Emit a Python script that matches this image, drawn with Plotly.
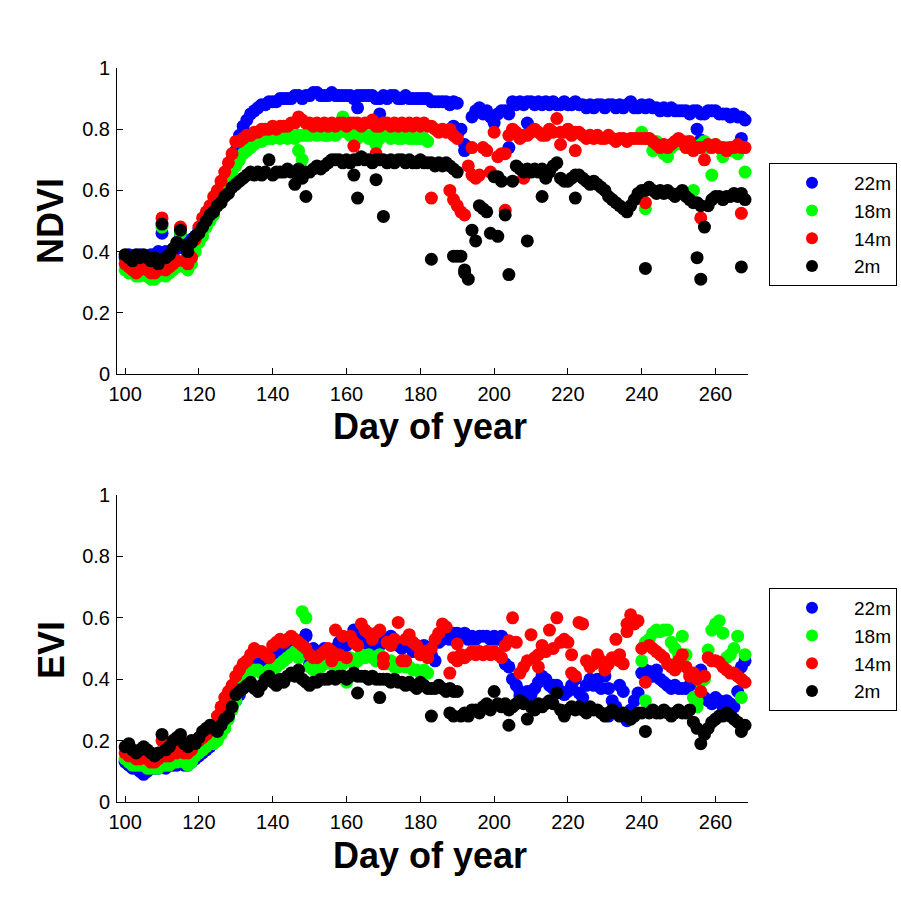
import plotly.graph_objects as go

N = None
days = list(range(100, 269))
series_names = ["22m", "18m", "14m", "2m"]
series_colors = ["#0000FF", "#00FF00", "#FF0000", "#000000"]
x_ticks = [100, 120, 140, 160, 180, 200, 220, 240, 260]
y_ticks = [0, 0.2, 0.4, 0.6, 0.8, 1]

# ---------------- NDVI ----------------
ndvi_22m = [
    0.38, 0.39, 0.38, 0.38, 0.39, 0.38, 0.38, 0.39, 0.39, 0.40,
    0.46, 0.40, 0.39, 0.40, 0.41, 0.45, 0.41, 0.42, 0.44, 0.45,
    0.47, 0.49, 0.51, 0.53, 0.56, 0.58, 0.61, 0.64, 0.67, 0.70,
    0.73, 0.78, 0.81, 0.83, 0.85, 0.86, 0.87, 0.88, 0.88, 0.89,
    0.89, 0.89, 0.90, 0.90, 0.90, 0.90, 0.91, 0.91, 0.90, 0.91,
    0.91, 0.92, 0.92, 0.91, 0.91, 0.91, 0.92, 0.91, 0.91, 0.91,
    0.91, 0.91, 0.90, 0.91, 0.91, 0.91, 0.91, 0.91, 0.90, 0.90,
    0.91, 0.90, 0.91, 0.91, 0.90, 0.90, 0.91, 0.90, 0.90, 0.90,
    0.90, 0.90, 0.90, 0.89, 0.89, 0.89, 0.89, 0.89, 0.88, 0.89,
    0.885, 0.80, 0.75, 0.74, 0.84, 0.86, 0.87, 0.85, 0.86, 0.84,
    0.82, 0.85, 0.86, 0.86, 0.85, 0.89, 0.88, 0.89, 0.88, 0.89,
    0.89, 0.88, 0.89, 0.88, 0.89, 0.88, 0.89, 0.88, 0.88, 0.89,
    0.88, 0.88, 0.89, 0.88, 0.88, 0.87, 0.88, 0.87, 0.88, 0.88,
    0.87, 0.88, 0.88, 0.87, 0.88, 0.87, 0.88, 0.89, 0.87, 0.87,
    0.88, 0.87, 0.88, 0.87, 0.87, 0.86, 0.87, 0.86, 0.87, 0.86,
    0.86, 0.86, 0.86, 0.85, 0.86, 0.86, 0.85, 0.85, 0.86, 0.86,
    0.86, 0.85, 0.85, 0.85, 0.84, 0.85, 0.84, 0.84, 0.83]
ndvi_22m_xd = [163, 169, 189, 190, 192, 204, 209, 255, 256, 267]
ndvi_22m_xv = [0.87, 0.85, 0.81, 0.78, 0.73, 0.74, 0.82, 0.80, 0.765, 0.77]

ndvi_18m = [
    0.34, 0.33, 0.33, 0.32, 0.32, 0.33, 0.32, 0.31, 0.31, 0.32,
    0.48, 0.32, 0.33, 0.34, 0.35, 0.46, 0.35, 0.34, 0.36, 0.40,
    0.43, 0.45, 0.48, 0.50, 0.52, 0.55, 0.58, 0.60, 0.62, 0.65,
    0.68, 0.70, 0.72, 0.73, 0.74, 0.75, 0.76, 0.76, 0.77, 0.77,
    0.77, 0.78, 0.77, 0.78, 0.77, 0.78, 0.77, 0.78, 0.78, 0.78,
    0.78, 0.79, 0.78, 0.79, 0.78, 0.78, 0.79, 0.78, 0.79, 0.84,
    0.79, 0.78, 0.78, 0.77, 0.78, 0.78, 0.77, 0.78, 0.75, 0.77,
    0.78, 0.78, 0.77, 0.78, 0.77, 0.77, 0.78, 0.77, 0.77, 0.77,
    0.77, 0.77, 0.76, N, N, N, N, N, N, N,
    N, N, N, N, N, N, N, N, N, N,
    N, N, N, N, N, N, N, N, N, N,
    N, N, N, N, N, N, N, N, N, N,
    N, N, N, N, N, N, N, N, N, N,
    N, N, N, N, N, N, N, N, N, N,
    0.79, 0.77, 0.77, 0.73, 0.76, 0.75, 0.72, 0.71, 0.74, 0.75,
    0.76, 0.75, 0.76, 0.74, 0.74, 0.74, 0.75, 0.76, 0.74, 0.65,
    0.75, 0.74, 0.71, 0.74, 0.73, 0.74, 0.72, 0.74, 0.66]
ndvi_18m_xd = [147, 148, 241, 254]
ndvi_18m_xv = [0.73, 0.70, 0.54, 0.60]

ndvi_14m = [
    0.36, 0.35, 0.34, 0.33, 0.34, 0.35, 0.34, 0.33, 0.33, 0.34,
    0.51, 0.34, 0.35, 0.36, 0.37, 0.48, 0.37, 0.36, 0.38, 0.44,
    0.48, 0.51, 0.53, 0.55, 0.58, 0.60, 0.63, 0.66, 0.69, 0.72,
    0.76, 0.76, 0.77, 0.78, 0.78, 0.79, 0.79, 0.80, 0.80, 0.80,
    0.81, 0.80, 0.81, 0.81, 0.81, 0.82, 0.82, 0.84, 0.83, 0.82,
    0.82, 0.81, 0.82, 0.81, 0.82, 0.81, 0.82, 0.81, 0.82, 0.82,
    0.81, 0.82, 0.82, 0.82, 0.81, 0.82, 0.82, 0.83, 0.81, 0.81,
    0.82, 0.82, 0.81, 0.82, 0.81, 0.82, 0.81, 0.82, 0.81, 0.82,
    0.81, 0.82, 0.81, 0.81, 0.80, 0.79, 0.80, 0.79, 0.80, 0.78,
    0.77, 0.53, 0.52, 0.68, 0.74, 0.64, 0.65, 0.74, 0.73, 0.66,
    0.79, 0.71, 0.72, 0.72, 0.78, 0.80, 0.79, 0.77, 0.78, 0.78,
    0.79, 0.80, 0.79, 0.78, 0.78, 0.80, 0.79, 0.835, 0.79, 0.79,
    0.80, 0.78, 0.79, 0.79, 0.78, 0.77, 0.78, 0.77, 0.78, 0.77,
    0.77, 0.78, 0.77, 0.76, 0.77, 0.77, 0.76, 0.77, 0.77, 0.77,
    0.77, 0.77, 0.77, 0.76, 0.75, 0.74, 0.75, 0.74, 0.75, 0.76,
    0.77, 0.76, 0.74, 0.76, 0.73, 0.74, 0.74, 0.70, 0.75, 0.74,
    0.75, 0.74, 0.74, 0.73, 0.74, 0.74, 0.75, 0.74, 0.74]
ndvi_14m_xd = [162, 168, 183, 188, 189, 190, 194, 203, 208, 218, 222, 241, 256, 267]
ndvi_14m_xv = [0.745, 0.72, 0.575, 0.60, 0.57, 0.55, 0.65, 0.535, 0.64, 0.75, 0.73, 0.56, 0.51, 0.525]

ndvi_2m = [
    0.39, 0.38, 0.37, 0.39, 0.38, 0.39, 0.38, 0.37, 0.38, 0.36,
    0.49, 0.38, 0.39, 0.41, 0.43, 0.47, 0.42, 0.40, 0.43, 0.45,
    0.46, 0.48, 0.50, 0.52, 0.53, 0.55, 0.56, 0.58, 0.59, 0.61,
    0.62, 0.63, 0.64, 0.65, 0.66, 0.65, 0.66, 0.65, 0.66, 0.70,
    0.65, 0.66, 0.66, 0.66, 0.67, 0.66, 0.66, 0.67, 0.66, 0.66,
    0.66, 0.67, 0.68, 0.67, 0.68, 0.69, 0.70, 0.70, 0.70, 0.69,
    0.70, 0.69, 0.70, 0.70, 0.71, 0.70, 0.70, 0.69, 0.70, 0.70,
    0.70, 0.69, 0.70, 0.69, 0.70, 0.70, 0.69, 0.70, 0.69, 0.69,
    0.70, 0.69, 0.69, 0.69, 0.68, 0.69, 0.68, 0.69, 0.68, 0.67,
    0.66, 0.385, 0.34, 0.31, 0.47, 0.435, 0.55, 0.54, 0.53, 0.46,
    0.645, 0.45, 0.63, 0.52, 0.325, 0.63, 0.68, 0.67, 0.66, 0.67,
    0.66, 0.67, 0.66, 0.67, 0.64, 0.66, 0.68, 0.69, 0.64, 0.63,
    0.63, 0.64, 0.65, 0.65, 0.64, 0.63, 0.62, 0.63, 0.62, 0.61,
    0.60, 0.58, 0.57, 0.56, 0.55, 0.54, 0.53, 0.55, 0.57, 0.59,
    0.60, 0.60, 0.61, 0.60, 0.59, 0.60, 0.59, 0.60, 0.59, 0.58,
    0.59, 0.60, 0.58, 0.57, 0.56, 0.56, 0.55, 0.48, 0.55, 0.57,
    0.58, 0.58, 0.57, 0.58, 0.58, 0.59, 0.58, 0.59, 0.57]
ndvi_2m_xd = [146, 148, 149, 162, 163, 168, 170, 183, 189, 190, 192, 201, 209, 213, 222, 241, 255, 256, 267]
ndvi_2m_xv = [0.62, 0.64, 0.58, 0.65, 0.575, 0.635, 0.515, 0.375, 0.385, 0.385, 0.33, 0.645, 0.435, 0.58, 0.575, 0.345, 0.38, 0.31, 0.35]

# ---------------- EVI ----------------
evi_22m = [
    0.13, 0.12, 0.11, 0.11, 0.10, 0.09, 0.10, 0.11, 0.11, 0.11,
    0.12, 0.11, 0.12, 0.12, 0.12, 0.13, 0.12, 0.12, 0.13, 0.14,
    0.15, 0.16, 0.17, 0.18, 0.20, 0.22, 0.24, 0.26, 0.28, 0.31,
    0.33, 0.35, 0.38, 0.40, 0.42, 0.44, 0.45, 0.46, 0.46, 0.47,
    0.48, 0.48, 0.49, 0.50, 0.50, 0.51, 0.50, 0.51, 0.52, 0.54,
    0.45, 0.50, 0.47, 0.49, 0.50, 0.49, 0.48, 0.50, 0.52, 0.50,
    0.51, 0.52, 0.56, 0.54, 0.50, 0.52, 0.50, 0.53, 0.52, 0.51,
    0.52, 0.53, 0.54, 0.52, 0.51, 0.50, 0.52, 0.51, 0.49, 0.51,
    0.50, 0.51, 0.50, 0.48, 0.46, 0.52, 0.53, 0.54, 0.53, 0.55,
    0.55, 0.54, 0.55, 0.53, 0.54, 0.53, 0.54, 0.54, 0.54, 0.53,
    0.54, 0.53, 0.54, 0.45, 0.44, 0.40, 0.38, 0.36, 0.35, 0.36,
    0.35, 0.37, 0.39, 0.41, 0.40, 0.38, 0.37, 0.38, 0.36, 0.35,
    0.36, 0.38, 0.40, 0.355, 0.34, 0.38, 0.40, 0.38, 0.40, 0.37,
    0.41, 0.28, 0.33, 0.31, 0.38, 0.36, 0.265, 0.30, 0.33, 0.355,
    0.42, 0.43, 0.425, 0.41, 0.43, 0.40, 0.39, 0.38, 0.37, 0.38,
    0.37, 0.37, 0.37, 0.38, 0.40, 0.41, 0.43, 0.34, 0.33, 0.32,
    0.34, 0.33, 0.31, 0.33, 0.32, 0.31, 0.36, 0.44, 0.46]
evi_22m_xd = [149, 165, 207, 216, 231]
evi_22m_xv = [0.545, 0.50, 0.345, 0.38, 0.37]

evi_18m = [
    0.14, 0.13, 0.12, 0.12, 0.12, 0.12, 0.11, 0.11, 0.11, 0.11,
    0.12, 0.12, 0.12, 0.13, 0.13, 0.14, 0.13, 0.12, 0.13, 0.15,
    0.16, 0.17, 0.18, 0.19, 0.19, 0.20, 0.22, 0.24, 0.27, 0.30,
    0.33, 0.36, 0.39, 0.41, 0.42, 0.43, 0.43, 0.42, 0.42, 0.43,
    0.43, 0.44, 0.45, 0.46, 0.47, 0.48, 0.49, 0.47, 0.62, 0.60,
    0.44, 0.43, 0.43, 0.44, 0.45, 0.46, 0.45, 0.46, 0.44, 0.45,
    0.46, 0.47, 0.45, 0.46, 0.48, 0.47, 0.48, 0.47, 0.46, 0.48,
    0.46, 0.45, 0.46, 0.44, 0.44, 0.45, 0.44, 0.44, 0.43, 0.43,
    0.42, 0.43, 0.42, N, N, N, N, N, N, N,
    N, N, N, N, N, N, N, N, N, N,
    N, N, N, N, N, N, N, N, N, N,
    N, N, N, N, N, N, N, N, N, N,
    N, N, N, N, N, N, N, N, N, N,
    N, N, N, N, N, N, N, N, N, N,
    0.46, 0.52, 0.53, 0.55, 0.56, 0.555, 0.56, 0.56, 0.52, 0.50,
    0.48, 0.54, 0.48, 0.42, 0.34, 0.31, 0.39, 0.40, 0.495, 0.56,
    0.58, 0.59, 0.55, 0.47, 0.48, 0.50, 0.54, 0.34, 0.48]
evi_18m_xd = [160, 241, 249, 255]
evi_18m_xv = [0.39, 0.33, 0.45, 0.33]

evi_14m = [
    0.16, 0.15, 0.15, 0.14, 0.14, 0.15, 0.14, 0.13, 0.13, 0.14,
    0.20, 0.15, 0.15, 0.16, 0.16, 0.17, 0.16, 0.16, 0.17, 0.19,
    0.20, 0.21, 0.22, 0.24, 0.25, 0.28, 0.31, 0.34, 0.36, 0.38,
    0.41, 0.43, 0.45, 0.46, 0.48, 0.50, 0.49, 0.49, 0.48, 0.47,
    0.51, 0.52, 0.53, 0.52, 0.53, 0.54, 0.53, 0.52, 0.51, 0.50,
    0.48, 0.47, 0.47, 0.48, 0.49, 0.50, 0.49, 0.56, 0.48, 0.54,
    0.47, 0.54, 0.52, 0.51, 0.58, 0.56, 0.55, 0.53, 0.55, 0.56,
    0.45, 0.52, 0.51, 0.53, 0.585, 0.46, 0.53, 0.545, 0.52, 0.51,
    0.48, 0.49, 0.47, 0.50, 0.53, 0.55, 0.58, 0.57, 0.42, 0.47,
    0.515, 0.48, 0.47, 0.48, 0.49, 0.48, 0.49, 0.48, 0.49, 0.48,
    0.49, 0.48, 0.47, 0.51, 0.525, 0.60, 0.52, 0.42, 0.44, 0.46,
    0.545, 0.47, 0.48, 0.51, 0.49, 0.56, 0.50, 0.60, 0.52, 0.53,
    0.52, 0.48, 0.41, 0.585, 0.58, 0.46, 0.44, 0.45, 0.48, 0.46,
    0.43, 0.45, 0.47, 0.53, 0.48, 0.45, 0.58, 0.61, 0.58, 0.59,
    0.50, 0.39, 0.51, 0.50, 0.49, 0.48, 0.47, 0.45, 0.44, 0.43,
    0.46, 0.48, 0.44, 0.41, 0.42, 0.40, 0.36, 0.41, 0.47, 0.46,
    0.46, 0.455, 0.44, 0.43, 0.42, 0.42, 0.41, 0.40, 0.39]
evi_14m_xd = [156, 170, 176, 190, 212, 221, 234, 236]
evi_14m_xv = [0.46, 0.47, 0.46, 0.46, 0.44, 0.42, 0.46, 0.555]

evi_2m = [
    0.18, 0.19, 0.17, 0.16, 0.17, 0.18, 0.17, 0.16, 0.15, 0.16,
    0.22, 0.17, 0.18, 0.20, 0.21, 0.22, 0.19, 0.18, 0.20, 0.19,
    0.21, 0.23, 0.24, 0.25, 0.24, 0.23, 0.25, 0.27, 0.28, 0.31,
    0.35, 0.36, 0.37, 0.38, 0.39, 0.37, 0.36, 0.38, 0.40, 0.41,
    0.39, 0.38, 0.40, 0.39, 0.41, 0.42, 0.41, 0.43, 0.40, 0.39,
    0.38, 0.39, 0.39, 0.40, 0.40, 0.40, 0.41, 0.40, 0.41, 0.41,
    0.40, 0.41, 0.42, 0.41, 0.41, 0.41, 0.40, 0.41, 0.40, 0.40,
    0.40, 0.40, 0.39, 0.40, 0.39, 0.39, 0.38, 0.39, 0.38, 0.37,
    0.39, 0.38, 0.37, 0.37, 0.37, 0.38, 0.37, 0.36, 0.37, 0.36,
    0.36, 0.28, 0.29, 0.28, 0.30, 0.30, 0.29, 0.31, 0.32, 0.30,
    0.36, 0.32, 0.31, 0.32, 0.25, 0.31, 0.32, 0.33, 0.32, 0.27,
    0.31, 0.30, 0.32, 0.31, 0.32, 0.33, 0.32, 0.355, 0.30, 0.28,
    0.30, 0.31, 0.30, 0.31, 0.30, 0.29, 0.31, 0.30, 0.30, 0.29,
    0.28, 0.29, 0.30, 0.29, 0.28, 0.29, 0.28, 0.27, 0.28, 0.29,
    0.29, 0.23, 0.29, 0.30, 0.29, 0.29, 0.30, 0.29, 0.28, 0.29,
    0.30, 0.29, 0.29, 0.30, 0.26, 0.24, 0.19, 0.22, 0.24, 0.26,
    0.27, 0.28, 0.28, 0.29, 0.28, 0.27, 0.26, 0.23, 0.25]
evi_2m_xd = [163, 169, 183, 188, 189, 204]
evi_2m_xv = [0.355, 0.34, 0.28, 0.29, 0.28, 0.30]

ndvi_sets = [(ndvi_22m, ndvi_22m_xd, ndvi_22m_xv), (ndvi_18m, ndvi_18m_xd, ndvi_18m_xv),
             (ndvi_14m, ndvi_14m_xd, ndvi_14m_xv), (ndvi_2m, ndvi_2m_xd, ndvi_2m_xv)]
evi_sets = [(evi_22m, evi_22m_xd, evi_22m_xv), (evi_18m, evi_18m_xd, evi_18m_xv),
            (evi_14m, evi_14m_xd, evi_14m_xv), (evi_2m, evi_2m_xd, evi_2m_xv)]

W = H = 901
FONT = "Liberation Sans, Arial, sans-serif"


def px_x(p):
    return p / W


def px_y(p):
    return 1 - p / H


fig = go.Figure()
for sets, xa, ya, leg in [(ndvi_sets, "x", "y", "legend"), (evi_sets, "x2", "y2", "legend2")]:
    for (vals, xd, xv), name, col in zip(sets, series_names, series_colors):
        xs = [d for d, v in zip(days, vals) if v is not None] + list(xd)
        ys = [v for v in vals if v is not None] + list(xv)
        fig.add_trace(go.Scatter(
            x=xs, y=ys, mode="markers", name=name, legend=leg,
            xaxis=xa, yaxis=ya, cliponaxis=False,
            marker=dict(color=col, size=13, line=dict(width=0)),
        ))

axis_common = dict(
    showline=True, linecolor="black", linewidth=1, mirror=False,
    ticks="inside", ticklen=6, tickcolor="black", tickwidth=1,
    showgrid=False, zeroline=False, automargin=False,
    tickfont=dict(family=FONT, size=20, color="black"),
)
xdom = [px_x(117), px_x(748)]
legend_common = dict(
    xanchor="left", yanchor="top", bordercolor="black", borderwidth=1, bgcolor="white",
    font=dict(family=FONT, size=19, color="black"), tracegroupgap=0,
    itemsizing="constant", itemwidth=74,
)
fig.update_layout(
    width=W, height=H,
    paper_bgcolor="white", plot_bgcolor="white",
    margin=dict(l=0, r=0, t=0, b=0, autoexpand=False),
    showlegend=True,
    xaxis=dict(domain=xdom, range=[97.8, 268.8], tickvals=x_ticks, anchor="y",
               ticklabelstandoff=2, **axis_common),
    yaxis=dict(domain=[px_y(374), px_y(68)], range=[0, 1], tickvals=y_ticks, anchor="x",
               ticklabelstandoff=2, **axis_common),
    xaxis2=dict(domain=xdom, range=[97.8, 268.8], tickvals=x_ticks, anchor="y2",
                ticklabelstandoff=2, **axis_common),
    yaxis2=dict(domain=[px_y(802), px_y(495)], range=[0, 1], tickvals=y_ticks, anchor="x2",
                ticklabelstandoff=2, **axis_common),
    legend=dict(x=px_x(769), y=px_y(163), **legend_common),
    legend2=dict(x=px_x(769), y=px_y(588), **legend_common),
)

title_font = dict(family=FONT, size=36, color="black")
annots = [
    dict(text="<b>NDVI</b>", x=px_x(51), y=px_y(221), textangle=-90),
    dict(text="<b>EVI</b>", x=px_x(51), y=px_y(650), textangle=-90),
    dict(text="<b>Day of year</b>", x=px_x(430), y=px_y(427), textangle=0),
    dict(text="<b>Day of year</b>", x=px_x(430), y=px_y(855), textangle=0),
]
for a in annots:
    fig.add_annotation(xref="paper", yref="paper", showarrow=False,
                       xanchor="center", yanchor="middle", font=title_font, **a)

fig.write_html("out.html", config={"displayModeBar": False},
               post_script="document.body.style.margin='0';")
